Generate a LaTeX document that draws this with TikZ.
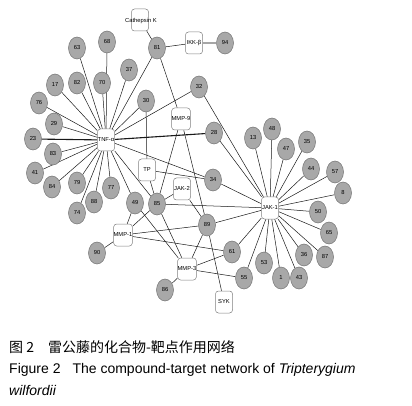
\documentclass[tikz,border=0pt]{standalone}
\usepackage{fontspec}
\setmainfont{Liberation Sans}
\newfontfamily\cjk{Noto Sans CJK SC}
\usetikzlibrary{shapes.geometric,backgrounds}
\definecolor{cfill}{gray}{0.66}
\definecolor{cline}{gray}{0.45}
\definecolor{bline}{gray}{0.5}
\definecolor{eline}{gray}{0.1}
\begin{document}
\begin{tikzpicture}[x=1pt,y=-1pt,
  lab/.style={font=\fontsize{5.8}{6.5}\selectfont},
  cn/.style={ellipse,draw=cline,fill=cfill,line width=0.5pt,minimum width=17pt,minimum height=22pt,inner sep=0pt,lab},
  tn/.style={rectangle,rounded corners=3pt,draw=bline,fill=white,line width=0.5pt,minimum width=17pt,minimum height=22pt,inner sep=0pt,lab},
  ed/.style={draw=eline,line width=0.5pt},
  edthick/.style={draw=eline,line width=1.1pt},
  eddouble/.style={draw=gray!70,line width=1.6pt},
  captxt/.style={anchor=base west,inner sep=0pt,font=\fontsize{14}{16}\selectfont},
]
\useasboundingbox (0,0) rectangle (412,406);

% target boxes
\node[tn] (catk) at (140,20) {};
\node[lab,inner sep=0pt] (catklab) at (141,21) {Cathepsin K};
\node[tn] (ikk) at (194,43) {IKK-β};
\node[tn] (tnf) at (106,140) {TNF-α};
\node[tn] (mmp9) at (181,119) {MMP-9};
\node[tn] (tp) at (147,170) {TP};
\node[tn] (jak2) at (182,189) {JAK-2};
\node[tn] (mmp1) at (123,235) {MMP-1};
\node[tn] (mmp3) at (187,269) {MMP-3};
\node[tn] (syk) at (224,302) {SYK};
\node[tn] (jak1) at (270,208) {JAK-1};

% compound circles
\node[cn] (n81) at (157,48) {81};
\node[cn] (n94) at (225,43) {94};
\node[cn] (n32) at (199,87) {32};
\node[cn] (n30) at (146,101) {30};
\node[cn] (n37) at (129,70) {37};
\node[cn] (n70) at (102,83) {70};
\node[cn] (n68) at (107,42) {68};
\node[cn] (n63) at (77,48) {63};
\node[cn] (n82) at (77,83) {82};
\node[cn] (n17) at (55,85) {17};
\node[cn] (n76) at (39,103) {76};
\node[cn] (n29) at (54,124) {29};
\node[cn] (n23) at (33,139) {23};
\node[cn] (n83) at (53,154) {83};
\node[cn] (n41) at (35,173) {41};
\node[cn] (n84) at (52,187) {84};
\node[cn] (n79) at (77,183) {79};
\node[cn] (n74) at (77,213) {74};
\node[cn] (n88) at (94,202) {88};
\node[cn] (n77) at (111,188) {77};
\node[cn] (n49) at (135,203) {49};
\node[cn] (n28) at (214,133) {28};
\node[cn] (n34) at (213,180) {34};
\node[cn] (n85) at (157,204) {85};
\node[cn] (n89) at (207,225) {89};
\node[cn] (n90) at (97,253) {90};
\node[cn] (n61) at (232,252) {61};
\node[cn] (n86) at (165,290) {86};
\node[cn] (n55) at (244,278) {55};
\node[cn] (n53) at (264,263) {53};
\node[cn] (n1) at (281,278) {1};
\node[cn] (n43) at (299,278) {43};
\node[cn] (n36) at (304,255) {36};
\node[cn] (n87) at (325,257) {87};
\node[cn] (n65) at (329,233) {65};
\node[cn] (n50) at (318,212) {50};
\node[cn] (n8) at (343,193) {8};
\node[cn] (n57) at (335,172) {57};
\node[cn] (n44) at (311,169) {44};
\node[cn] (n35) at (307,142) {35};
\node[cn] (n47) at (286,149) {47};
\node[cn] (n48) at (272,129) {48};
\node[cn] (n13) at (253,138) {13};

\begin{pgfonlayer}{background}
  \fill[white] (0,0) rectangle (412,406);
  \foreach \a/\b in {catk/n81, n81/ikk, n81/tnf, n81/mmp9,
     tnf/n63, tnf/n68, tnf/n70, tnf/n82, tnf/n17, tnf/n76, tnf/n29,
     tnf/n83, tnf/n41, tnf/n84, tnf/n79, tnf/n74, tnf/n88, tnf/n77,
     tnf/n49, tnf/n85, tnf/n37, tnf/n30, tnf/n32, tnf/n34,
     n30/tp, tp/n34, tp/n85, mmp9/n85, mmp9/n89,
     n85/jak2, n85/jak1, n85/mmp1, n85/mmp3, n49/mmp1, n49/mmp3,
     mmp1/n90, mmp1/n89, mmp1/n61, jak2/n89, n89/mmp3, n89/syk, n89/jak1,
     mmp3/n61, mmp3/n55, mmp3/n86, n61/jak1, n55/jak1,
     n32/jak1, n28/jak1, n34/jak1,
     jak1/n13, jak1/n48, jak1/n47, jak1/n35, jak1/n44, jak1/n57, jak1/n8,
     jak1/n50, jak1/n65, jak1/n87, jak1/n36, jak1/n43, jak1/n1, jak1/n53}
    \draw[ed] (\a) -- (\b);
  \foreach \a/\b in {tnf/n23, tnf/n28}
    \draw[edthick] (\a) -- (\b);
  \draw[eddouble] (ikk) -- (n94);
\end{pgfonlayer}

% caption
\node[captxt] (capzh) at (9,352) {\cjk 图 2\hspace{14pt}雷公藤的化合物-靶点作用网络};
\node[captxt] (capen) at (9,373) {Figure 2\hspace{12pt}The compound-target network of \textit{Tripterygium}};
\node[captxt] (capen2) at (9,395) {\textit{wilfordii}};
\end{tikzpicture}
\end{document}
